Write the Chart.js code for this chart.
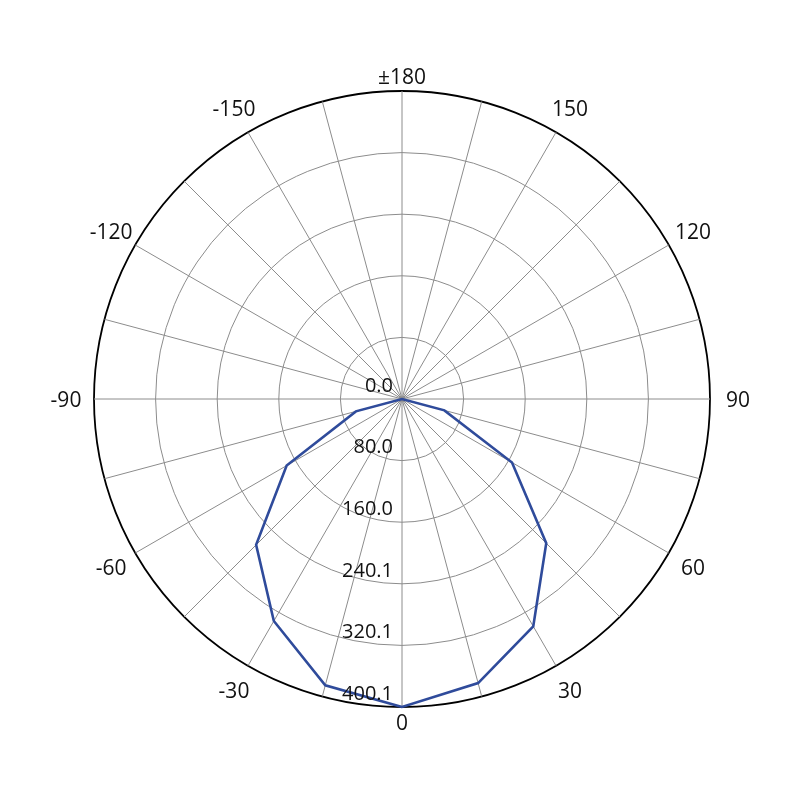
<!DOCTYPE html>
<html>
<head>
<meta charset="utf-8">
<script src="https://cdn.jsdelivr.net/npm/chart.js@4/dist/chart.umd.min.js"></script>
<style>
  html, body { margin: 0; padding: 0; background: #fff; }
  #wrap { width: 800px; height: 800px; }
</style>
</head>
<body>
<div id="wrap"><canvas id="polar"></canvas></div>
<script>
// spokes every 15 degrees, starting at the bottom (0) and going clockwise on screen
const angles = [0, -15, -30, -45, -60, -75, -90, -105, -120, -135, -150, -165,
                180, 165, 150, 135, 120, 105, 90, 75, 60, 45, 30, 15];
// only every 30 degrees gets a label
const angleLabels = ['0', '', '-30', '', '-60', '', '-90', '', '-120', '', '-150', '',
                     '±180', '', '150', '', '120', '', '90', '', '60', '', '30', ''];
// intensity
const intensity = [400.1, 385, 333, 268, 173, 62, 0, 0, 0, 0, 0, 0,
                   0, 0, 0, 0, 0, 0, 0, 57, 165, 265, 341, 382];
// ring values
const ringValues = [0, 80.02, 160.04, 240.06, 320.08, 400.1];

const GRID = '#8c8c8c';
const TEXT = '#111';

// radial tick labels, drawn along the 0 spoke but kept upright
const tickLabels = {
    id: 'tickLabels',
    afterDatasetsDraw(chart) {
        const r = chart.scales.r;
        const ctx = chart.ctx;
        ctx.save();
        ctx.font = '20px "Open Sans"';
        ctx.fillStyle = TEXT;
        ctx.textAlign = 'right';
        ctx.textBaseline = 'middle';
        r.ticks.forEach((t) => {
            const d = r.getDistanceFromCenterForValue(t.value);
            ctx.fillText(t.value.toFixed(1), r.xCenter - 9, r.yCenter + d - 13);
        });
        ctx.restore();
    }
};

// angle labels centred on a ring just outside the outer circle
const angleLabelPlugin = {
    id: 'angleLabels',
    afterDraw(chart) {
        const r = chart.scales.r;
        const ctx = chart.ctx;
        ctx.save();
        ctx.font = '21px "Open Sans"';
        ctx.fillStyle = TEXT;
        ctx.textAlign = 'center';
        ctx.textBaseline = 'middle';
        angleLabels.forEach((txt, i) => {
            if (!txt) return;
            const vertical = Math.abs(angles[i]) % 180 === 0;
            const p = r.getPointPosition(i, r.drawingArea + (vertical ? 15 : 28));
            ctx.fillText(txt, p.x, p.y + 2);
        });
        ctx.restore();
    }
};

new Chart(document.getElementById('polar'), {
    type: 'radar',
    data: {
        labels: angles,
        datasets: [{
            label: 'intensity',
            data: intensity,
            borderColor: '#2f4b9b',
            borderWidth: 2.6,
            pointRadius: 0,
            fill: false,
            tension: 0
        }]
    },
    options: {
        responsive: true,
        maintainAspectRatio: false,
        animation: false,
        layout: { padding: { left: 94, right: 89, top: 91, bottom: 92 } },
        plugins: {
            legend: { display: false },
            tooltip: { enabled: false }
        },
        scales: {
            r: {
                startAngle: 180,
                min: 0,
                max: 400.1,
                afterBuildTicks: (scale) => {
                    scale.ticks = ringValues.map((v) => ({ value: v }));
                },
                ticks: { display: false },
                grid: {
                    circular: true,
                    color: (c) => c.index === ringValues.length - 1 ? '#000' : GRID,
                    lineWidth: (c) => c.index === ringValues.length - 1 ? 1.8 : 1
                },
                angleLines: { color: GRID, lineWidth: 1 },
                pointLabels: { display: false }
            }
        }
    },
    plugins: [tickLabels, angleLabelPlugin]
});
</script>
</body>
</html>
